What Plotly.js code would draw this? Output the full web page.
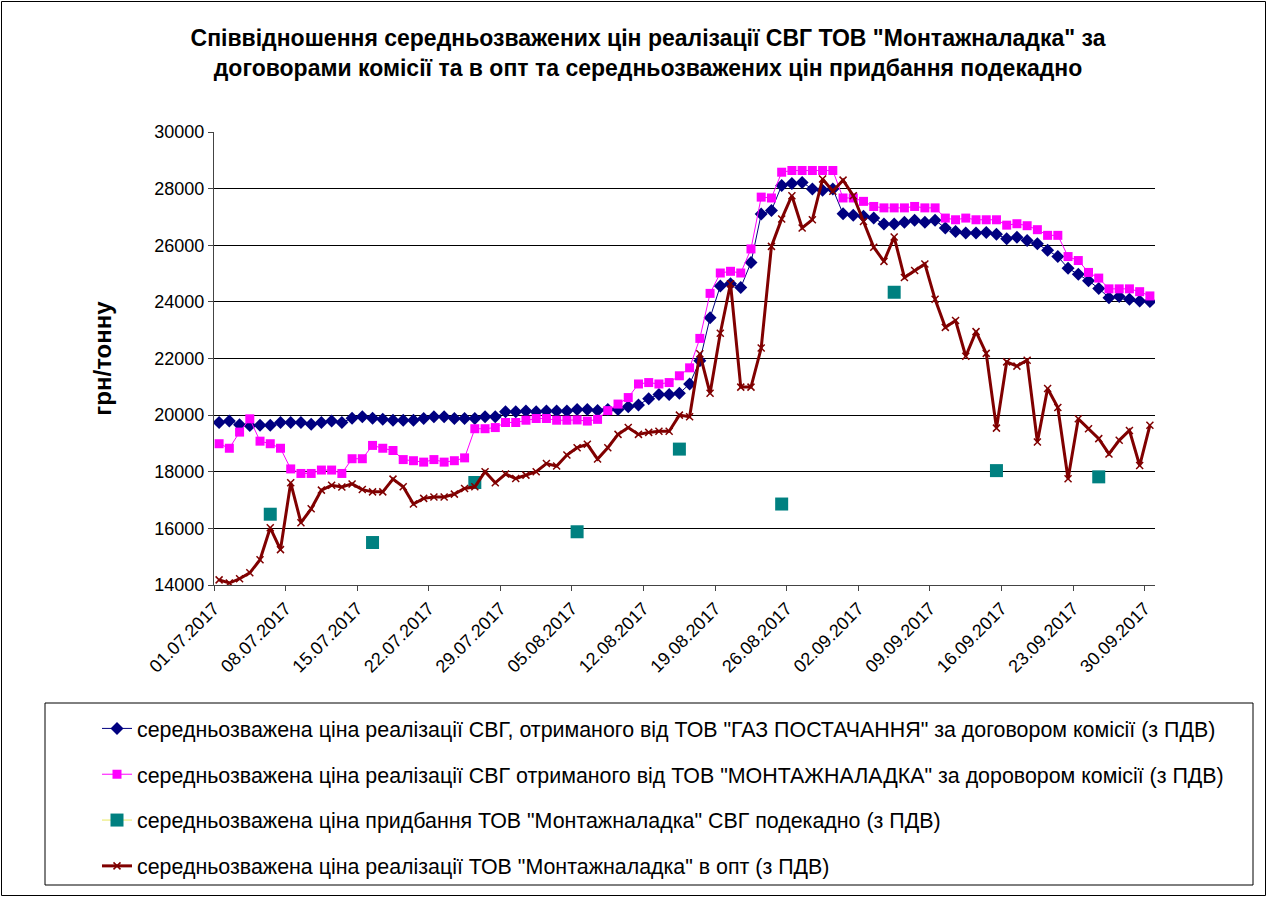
<!DOCTYPE html>
<html>
<head>
<meta charset="utf-8">
<script src="https://cdn.plot.ly/plotly-3.0.1.min.js"></script>
<style>
html,body{margin:0;padding:0;background:#fff;}
#chart{width:1267px;height:897px;}
</style>
</head>
<body>
<div id="chart"></div>
<script>
// ---- data ----
const startDate = '2017-07-01';
const dayCount = 92;

const seriesNames = [
  'середньозважена ціна реалізації СВГ, отриманого від ТОВ "ГАЗ ПОСТАЧАННЯ" за договором комісії (з ПДВ)',
  'середньозважена ціна реалізації СВГ отриманого від ТОВ "МОНТАЖНАЛАДКА" за доровором комісії (з ПДВ)',
  'середньозважена ціна придбання ТОВ "Монтажналадка" СВГ подекадно (з ПДВ)',
  'середньозважена ціна реалізації ТОВ "Монтажналадка" в опт (з ПДВ)'
];

const gasPostachannya = [
  19740,19790,19660,19630,19640,19640,19740,19740,19740,19680,19740,19790,19740,19890,19940,19890,19850,19820,
  19820,19820,19880,19940,19940,19880,19880,19880,19940,19940,20120,20120,20150,20120,20150,20150,20150,20200,
  20200,20160,20200,20200,20300,20360,20580,20730,20730,20770,21100,21920,23440,24560,24640,24510,25390,27100,
  27230,28110,28180,28220,27990,27940,27990,27110,27060,27020,26960,26750,26750,26810,26880,26810,26880,26610,
  26490,26430,26430,26450,26390,26230,26280,26170,26050,25820,25600,25190,24980,24750,24470,24150,24190,24090,24030,24010
];

const montazhnaladkaKomisiya = [
  18990,18830,19400,19870,19080,18990,18830,18100,17940,17940,18060,18060,17940,18460,18460,18930,18830,18750,
  18430,18390,18340,18430,18340,18390,18490,19520,19520,19560,19740,19740,19820,19880,19880,19820,19820,19830,
  19790,19850,20160,20390,20620,21100,21150,21100,21150,21390,21670,22710,24300,25020,25080,25020,25870,27700,
  27670,28580,28640,28640,28640,28640,28640,27670,27670,27550,27370,27320,27320,27320,27370,27320,27320,26960,
  26900,26960,26900,26900,26900,26710,26760,26690,26550,26350,26350,25600,25460,25040,24840,24460,24460,24460,24360,24210
];

const optPrices = [
  14180,14070,14220,14430,14890,16020,15250,17610,16200,16690,17350,17520,17460,17570,17370,17290,17290,17740,
  17470,16860,17060,17110,17110,17210,17410,17470,18000,17610,17920,17760,17880,18000,18290,18200,18590,18850,
  18970,18450,18850,19320,19560,19320,19390,19430,19430,20000,19940,22170,20770,22890,24640,20990,20990,22370,
  25960,26930,27750,26610,26900,28340,27910,28300,27750,26840,25930,25430,26290,24860,25110,25340,24090,23100,
  23340,22080,22950,22180,19540,21880,21730,21940,19050,20940,20270,17750,19870,19520,19170,18630,19110,19460,18220,19640
];

const purchaseDates = ['2017-07-06','2017-07-16','2017-07-26','2017-08-05','2017-08-15','2017-08-25','2017-09-05','2017-09-15','2017-09-25'];
const purchaseValues = [16500,15500,17620,15880,18800,16860,24340,18040,17820];

const yTicks = [14000,16000,18000,20000,22000,24000,26000,28000,30000];

// ---- build x categories (one per day, placed mid-day) ----
function isoDay(i){
  const d = new Date(Date.UTC(2017,6,1) + i*86400000);
  return d.toISOString().slice(0,10);
}
const days = [];
for (let i=0;i<dayCount;i++) days.push(isoDay(i));
const xMid = days.map(d => d + ' 12:00');
const purchaseFull = days.map(d => {
  const k = purchaseDates.indexOf(d);
  return k >= 0 ? purchaseValues[k] : null;
});

const FONT = 'Arial, "Liberation Sans", sans-serif';

const traces = [
  {
    x: xMid, y: gasPostachannya, name: seriesNames[0], type: 'scatter', mode: 'lines+markers',
    line: {color: '#000080', width: 1},
    marker: {symbol: 'diamond', size: 10, color: '#000080'},
    legendgroup: 'a'
  },
  {
    x: xMid, y: montazhnaladkaKomisiya, name: seriesNames[1], type: 'scatter', mode: 'lines+markers',
    line: {color: '#FF00FF', width: 1},
    marker: {symbol: 'square', size: 9, color: '#FF00FF'},
    legendgroup: 'b'
  },
  {
    x: xMid, y: purchaseFull, name: seriesNames[2], type: 'scatter', mode: 'lines+markers',
    connectgaps: false,
    line: {color: '#E8E860', width: 1},
    marker: {symbol: 'square', size: 13, color: '#008080'},
    legendgroup: 'c'
  },
  {
    x: xMid, y: optPrices, name: seriesNames[3], type: 'scatter', mode: 'lines+markers',
    line: {color: '#800000', width: 3},
    marker: {symbol: 'x-thin', size: 7, color: '#800000', line: {color: '#800000', width: 1.5}},
    legendgroup: 'd'
  }
];

// plot area in px
const L = 214, R = 1155, T = 132, B = 585;
const PW = R - L, PH = B - T;
const px = v => (v - L) / PW;
const py = v => (B - v) / PH;

const layout = {
  width: 1267, height: 897,
  margin: {l: L, r: 1267 - R, t: T, b: 897 - B, pad: 0, autoexpand: false},
  paper_bgcolor: '#ffffff', plot_bgcolor: '#ffffff',
  font: {family: FONT, color: '#000', size: 18},
  title: {
    text: 'Співвідношення середньозважених цін реалізації СВГ ТОВ "Монтажналадка" за<br>договорами комісії та в опт та середньозважених цін придбання подекадно',
    font: {family: FONT, size: 23, color: '#000', weight: 'bold'},
    x: 648/1267, xanchor: 'center', xref: 'container',
    y: 1 - 46/897, yanchor: 'middle', yref: 'container'
  },
  showlegend: true,
  hovermode: false,
  xaxis: {
    type: 'date',
    range: ['2017-07-01', '2017-10-01'],
    tick0: '2017-07-01', dtick: 7*86400000,
    tickformat: '%d.%m.%Y',
    tickangle: -45,
    ticks: 'outside', ticklen: 5, tickcolor: '#444', tickwidth: 1,
    showgrid: false, zeroline: false,
    showline: true, linecolor: '#444', linewidth: 1,
    tickfont: {family: FONT, size: 18, color: '#000'},
    automargin: false
  },
  yaxis: {
    range: [14000, 30000],
    tickvals: yTicks,
    ticktext: yTicks.map(String),
    ticks: 'outside', ticklen: 5, tickcolor: '#444',
    showgrid: true, gridcolor: '#000', gridwidth: 1,
    zeroline: false,
    showline: true, linecolor: '#444', linewidth: 1,
    tickfont: {family: FONT, size: 18, color: '#000'},
    automargin: false,
    title: {text: 'грн/тонну', font: {family: FONT, size: 24, color: '#000', weight: 'bold'}, standoff: 35}
  },
  legend: {
    x: px(97), xanchor: 'left', xref: 'paper',
    y: py(708), yanchor: 'top', yref: 'paper',
    bgcolor: 'rgba(0,0,0,0)', borderwidth: 0,
    font: {family: FONT, size: 21.4, color: '#000'},
    tracegroupgap: 15,
    traceorder: 'grouped'
  },
  shapes: [
    {type: 'rect', xref: 'paper', yref: 'paper', x0: px(45), x1: px(1253), y0: py(885), y1: py(703),
     line: {color: '#000', width: 1}, fillcolor: 'rgba(0,0,0,0)'},
    {type: 'rect', xref: 'paper', yref: 'paper', x0: px(1.5), x1: px(1265.5), y0: py(895.5), y1: py(1.5),
     line: {color: '#000', width: 1}, fillcolor: 'rgba(0,0,0,0)'}
  ]
};

Plotly.newPlot('chart', traces, layout, {displayModeBar: false, staticPlot: true});
</script>
</body>
</html>
